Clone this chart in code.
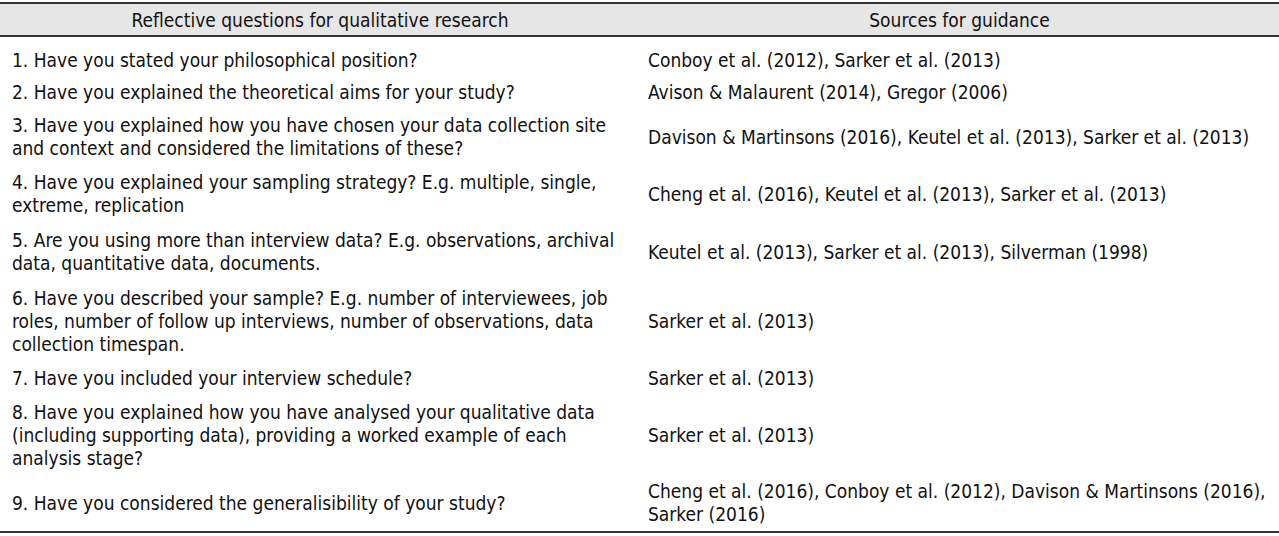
<!DOCTYPE html>
<html><head><meta charset="utf-8">
<script src="https://cdn.jsdelivr.net/npm/chart.js@4"></script>
<style>
body{margin:0;width:1279px;height:536px;background:#fff;font-family:"DejaVu Sans Condensed","DejaVu Sans",sans-serif;font-size:19px;color:#111;position:relative;overflow:hidden}
.hdr{position:absolute;left:0;top:2px;width:1279px;height:31px;background:#e6e6e6;border-top:2px solid #333;border-bottom:2px solid #333}
.h{position:absolute;top:5px;text-align:center}
.c{position:absolute;line-height:23px;white-space:nowrap}
.bot{position:absolute;left:0;top:531px;width:1279px;border-top:2px solid #333}
</style></head><body>
<div class="hdr"><div class="h" style="left:0;width:640px" id="h1"></div><div class="h" style="left:640px;width:639px" id="h2"></div></div>
<div id="rows"></div>
<div class="bot"></div>
<script>
const headers = ["Reflective questions for qualitative research", "Sources for guidance"];
const questions = [
 ["1. Have you stated your philosophical position?"],
 ["2. Have you explained the theoretical aims for your study?"],
 ["3. Have you explained how you have chosen your data collection site","and context and considered the limitations of these?"],
 ["4. Have you explained your sampling strategy? E.g. multiple, single,","extreme, replication"],
 ["5. Are you using more than interview data? E.g. observations, archival","data, quantitative data, documents."],
 ["6. Have you described your sample? E.g. number of interviewees, job","roles, number of follow up interviews, number of observations, data","collection timespan."],
 ["7. Have you included your interview schedule?"],
 ["8. Have you explained how you have analysed your qualitative data","(including supporting data), providing a worked example of each","analysis stage?"],
 ["9. Have you considered the generalisibility of your study?"]
];
const sources = [
 ["Conboy et al. (2012), Sarker et al. (2013)"],
 ["Avison & Malaurent (2014), Gregor (2006)"],
 ["Davison & Martinsons (2016), Keutel et al. (2013), Sarker et al. (2013)"],
 ["Cheng et al. (2016), Keutel et al. (2013), Sarker et al. (2013)"],
 ["Keutel et al. (2013), Sarker et al. (2013), Silverman (1998)"],
 ["Sarker et al. (2013)"],
 ["Sarker et al. (2013)"],
 ["Sarker et al. (2013)"],
 ["Cheng et al. (2016), Conboy et al. (2012), Davison & Martinsons (2016),","Sarker (2016)"]
];
const rowCenters = [60, 92, 137, 194, 252, 321, 378, 435, 503];
document.getElementById('h1').textContent = headers[0];
document.getElementById('h2').textContent = headers[1];
const rows = document.getElementById('rows');
function cell(lines, x, cy){
  const d = document.createElement('div'); d.className='c';
  d.style.left = x+'px'; d.style.top = (cy - lines.length*23/2)+'px';
  lines.forEach((l,i)=>{ if(i) d.appendChild(document.createElement('br')); d.appendChild(document.createTextNode(l)); });
  rows.appendChild(d);
}
questions.forEach((q,i)=>{ cell(q, 12, rowCenters[i]); cell(sources[i], 648, rowCenters[i]); });
</script>
</body></html>
